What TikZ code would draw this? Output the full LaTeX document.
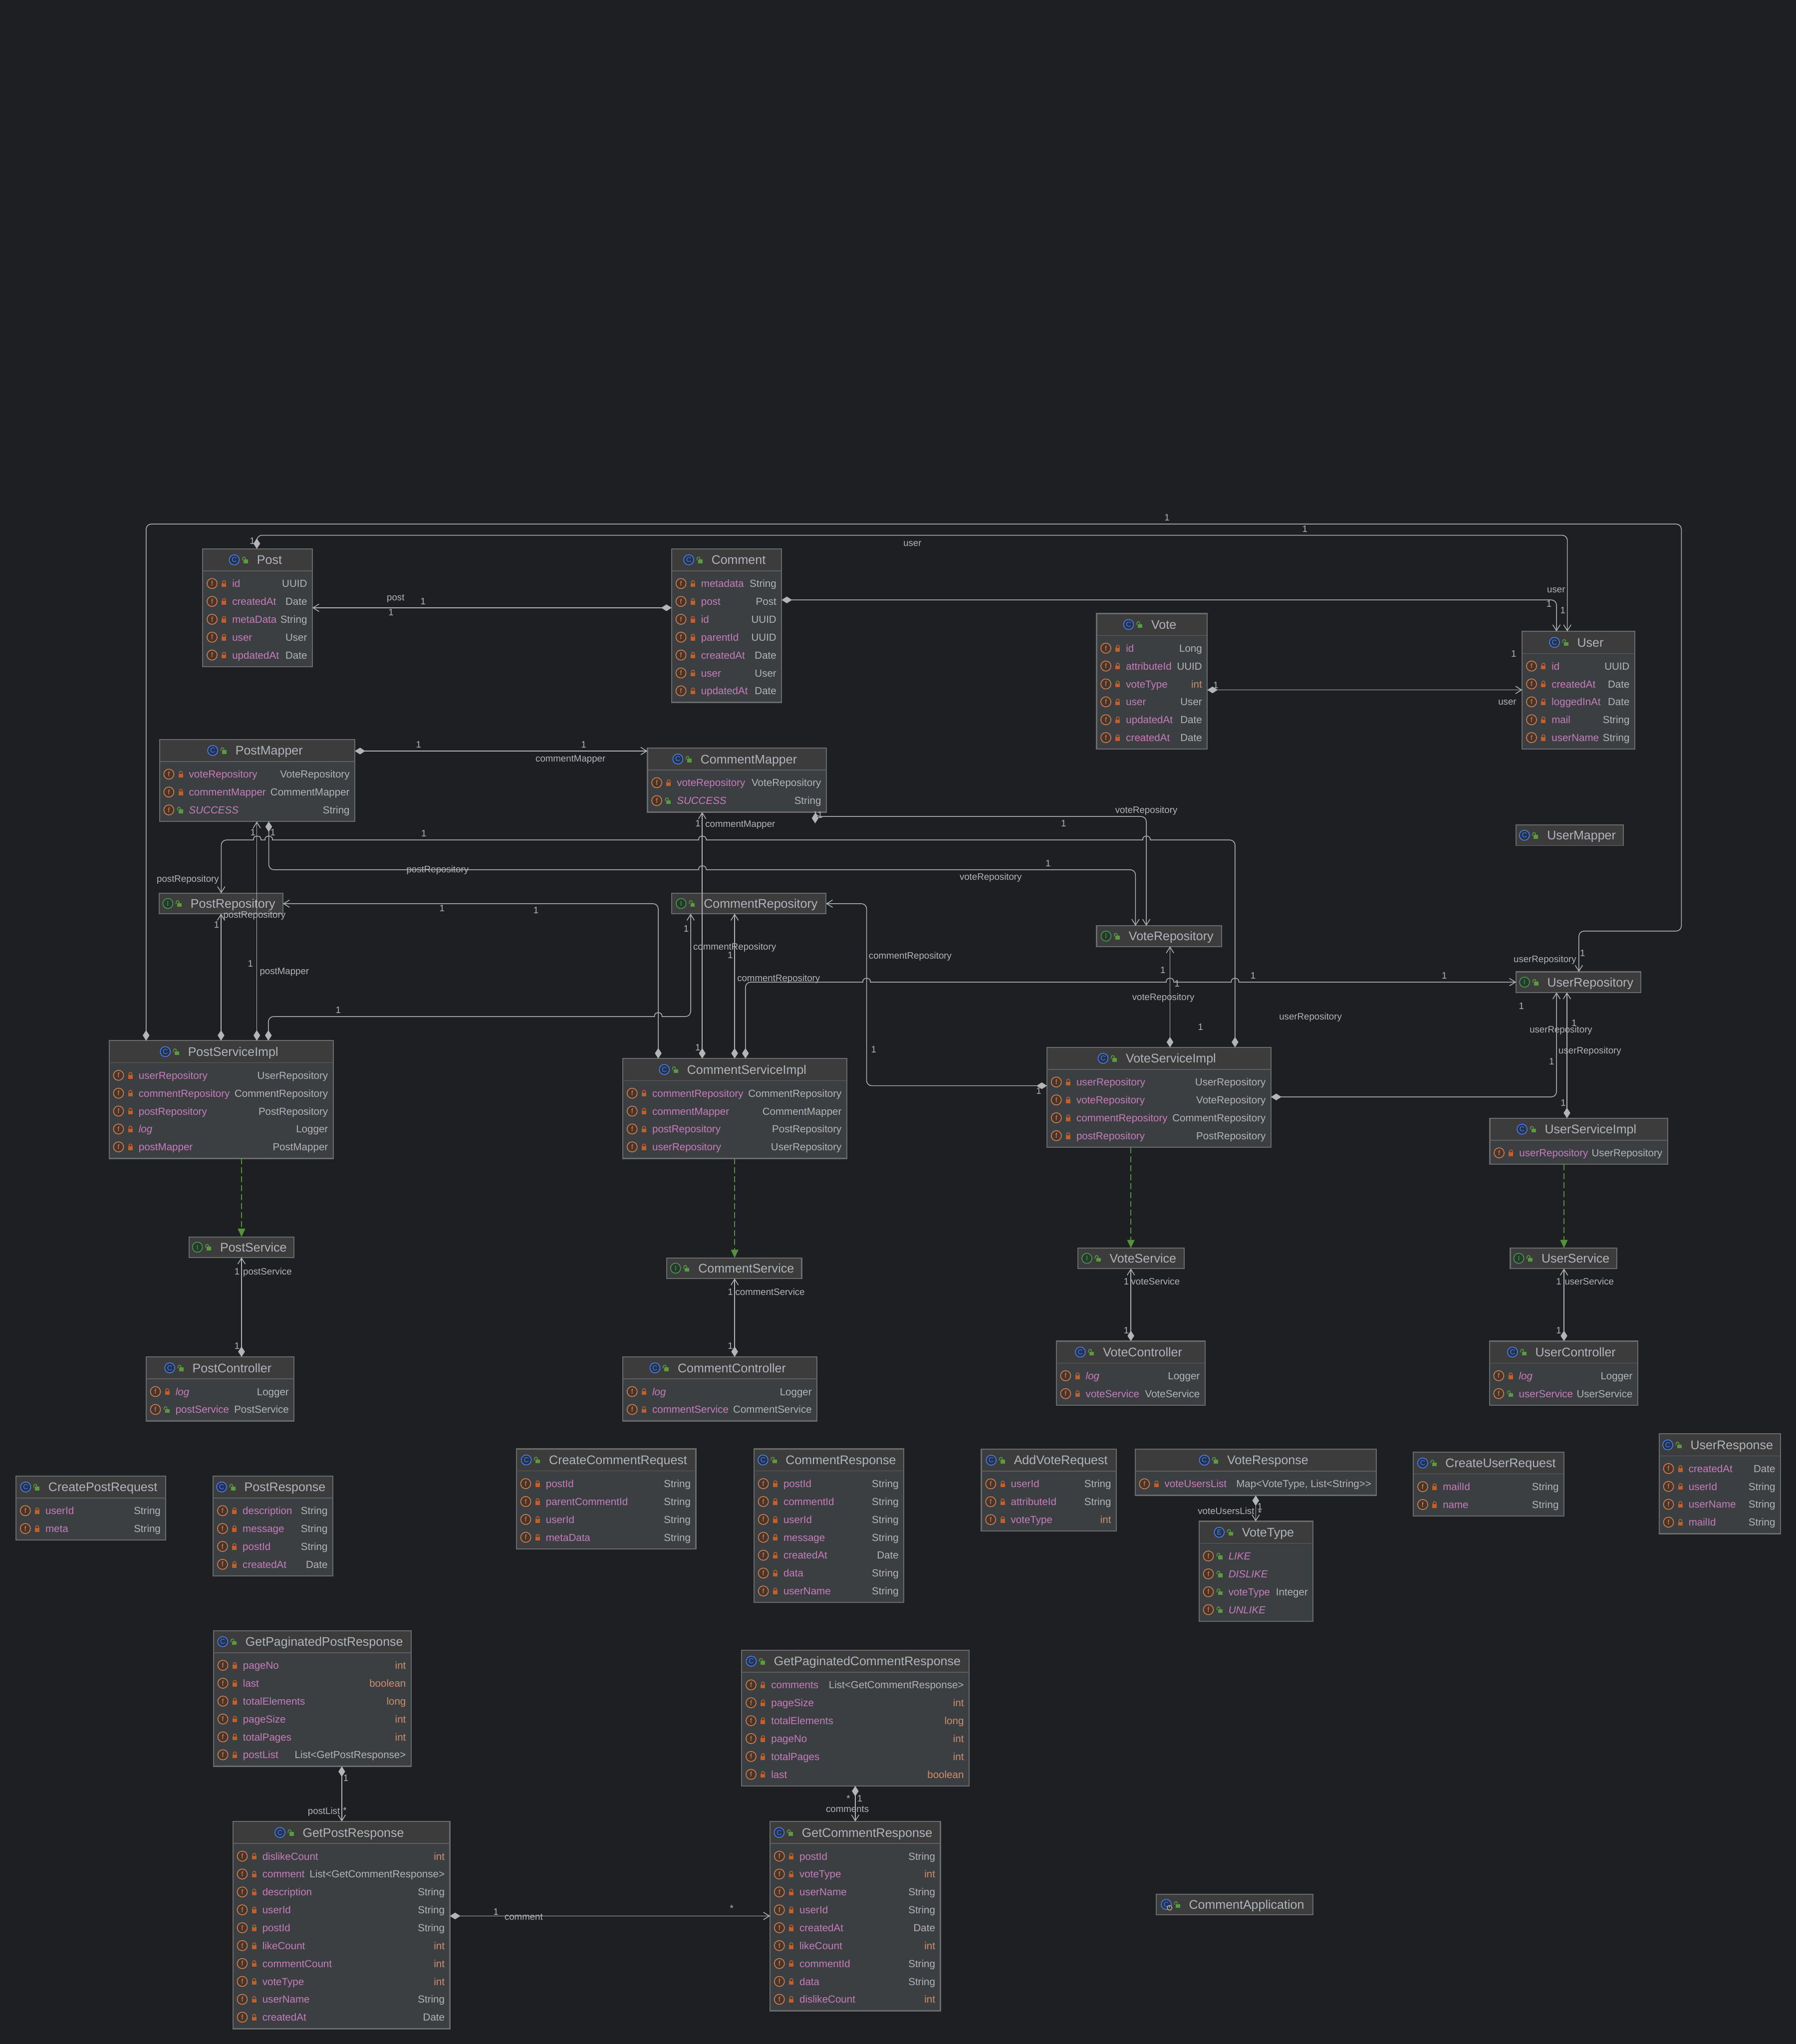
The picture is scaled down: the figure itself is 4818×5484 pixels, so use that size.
\documentclass[tikz,border=0pt]{standalone}
\usepackage{fontspec}
\setmainfont{Liberation Sans}
\usetikzlibrary{arrows.meta}
\definecolor{bg}{HTML}{1E1F22}
\definecolor{hdrc}{HTML}{3C3C3C}
\definecolor{bodyc}{HTML}{3B3F42}
\definecolor{brd}{HTML}{6B6B6B}
\definecolor{sepc}{HTML}{5F5F5F}
\definecolor{ttl}{HTML}{B2B4BA}
\definecolor{fname}{HTML}{C77DBB}
\definecolor{ftype}{HTML}{B2B4BA}
\definecolor{primc}{HTML}{CF8E6D}
\definecolor{lnc}{HTML}{B4B4B4}
\definecolor{gen}{HTML}{55923B}
\definecolor{ringf}{HTML}{CF8658}
\definecolor{fillf}{HTML}{4A3328}
\definecolor{ringc}{HTML}{4C82EF}
\definecolor{fillc}{HTML}{25324D}
\definecolor{ringi}{HTML}{4A9A58}
\definecolor{filli}{HTML}{263A2C}
\definecolor{lockp}{HTML}{C1602A}
\definecolor{locko}{HTML}{5A9B42}
\tikzset{
  clsbox/.style={draw=brd,fill=bodyc,line width=1.5pt,rectangle,anchor=north west,inner sep=0,outer sep=0},
  ttlnode/.style={font=\fontsize{16.75pt}{20pt}\selectfont,text=ttl,inner sep=0,outer sep=0,text height=14.5pt,text depth=2.5pt},
  fnode/.style={font=\fontsize{13.75pt}{16pt}\selectfont,text=fname,inner sep=0,outer sep=0,anchor=west,text height=11.5pt,text depth=1.5pt},
  tnode/.style={font=\fontsize{13.75pt}{16pt}\selectfont,text=ftype,inner sep=0,outer sep=0,anchor=east,text height=11.5pt,text depth=1.5pt},
  elab/.style={font=\fontsize{12.5pt}{15pt}\selectfont,text=ftype,inner sep=0,outer sep=0,text height=10pt,text depth=1.5pt},
  ico/.style={circle,line width=1pt,inner sep=0,outer sep=0,minimum size=13.5pt,font=\fontsize{9.5pt}{10pt}\selectfont},
  cn/.style={draw=lnc,line width=1pt,rounded corners=7pt},
  assoc/.style={cn,arrows={Diamond[length=14pt,width=9pt]-Straight Barb[length=8pt,width=10pt]}},
  genl/.style={draw=gen,line width=.9pt,dash pattern=on 8pt off 4pt,arrows={-Triangle[length=11pt,width=10pt]}},
}
\newcount\lblc
\newcount\rowc
\newcommand\nxt{\global\advance\lblc by 1 }
\newcommand\circico[5]{\nxt\node[ico,draw=#3,fill=#4,text=#3,name=ic\the\lblc] at (#1,#2) {#5};}
\newcommand\lockP[2]{%
  \fill[lockp] (#1-6,#2-1) rectangle (#1+6,#2+9);
  \draw[lockp,line width=1pt] (#1-4,#2-1) -- (#1-4,#2-4) .. controls (#1-4,#2-9) and (#1+4,#2-9) .. (#1+4,#2-4) -- (#1+4,#2-1);}
\newcommand\lockO[2]{%
  \fill[locko] (#1-6,#2-1) rectangle (#1+6,#2+9);
  \draw[locko,line width=1pt] (#1-9,#2+1) -- (#1-9,#2-3) .. controls (#1-9,#2-9) and (#1-1,#2-9) .. (#1-1,#2-3) -- (#1-1,#2-1);}
% id x0 x1 y0 n kind(ringc/ringi) letter title
\newcommand\cls[8]{%
  \def\cx{#2}\def\cX{#3}\def\cy{#4}\global\rowc=0
  \pgfmathsetmacro\cH{#5>0 ? 76+48*#5 : 55}
  \pgfmathsetmacro\hH{#5>0 ? 59 : 55}
  \pgfmathsetmacro\hc{#4+\hH/2}
  \pgfmathsetmacro\tx{(#2+#3)/2+32}
  \node[clsbox,minimum width=(#3-#2)*0.5pt,minimum height=\cH*0.5pt] (#1) at (#2,#4) {};
  \fill[hdrc] (#2+1.5,#4+1.5) rectangle (#3-1.5,#4+\hH-1);
  \ifnum#5>0 \draw[sepc,line width=1pt] (#2,#4+\hH) -- (#3,#4+\hH);\fi
  \node[ttlnode] (#1t) at (\tx,\hc) {#8};
  \begin{scope}[shift={(#1t.west)}]
    \ifx c#6\circico{-61}{0}{ringc}{fillc}{#7}\fi
    \ifx i#6\circico{-61}{0}{ringi}{filli}{#7}\fi
    \lockO{-30}{0}
  \end{scope}
}
\newcommand\rowbase[2]{%
  \global\advance\rowc by 1
  \pgfmathsetmacro\ry{\cy+93+48*(\the\rowc-1)}
  \circico{\cx+25}{\ry}{ringf}{fillf}{f}
  \nxt\node[fnode,name=fn\the\lblc] at (\cx+79,\ry) {#1};
  \ifx\relax#2\relax\else\nxt\node[tnode,name=ty\the\lblc] at (\cX-14,\ry) {#2};\fi
}
\newcommand\fp[2]{\rowbase{#1}{#2}\lockP{\cx+57}{\ry}}
\newcommand\fo[2]{\rowbase{#1}{#2}\lockO{\cx+57}{\ry}}
\newcommand\prim[1]{\textcolor{primc}{#1}}
\newcommand\el[3]{\nxt\node[elab,name=el\the\lblc] at (#1,#2) {#3};}
\newcommand\hjr[2]{[sharp corners] -- (#1-10,#2) -- (#1-10,#2-3) .. controls (#1-9,#2-13) and (#1+9,#2-13) .. (#1+10,#2-3) -- (#1+10,#2) [rounded corners=7pt]}
\newcommand\hjl[2]{[sharp corners] -- (#1+10,#2) -- (#1+10,#2-3) .. controls (#1+9,#2-13) and (#1-9,#2-13) .. (#1-10,#2-3) -- (#1-10,#2) [rounded corners=7pt]}
\begin{document}
\begin{tikzpicture}[x=0.5pt,y=-0.5pt]
\useasboundingbox (0,0) rectangle (4818,5484);
\fill[bg] (0,0) rectangle (4818,5484);

\cls{post}{544}{838}{1472.5}{5}{c}{C}{Post}
\fp{id}{UUID}\fp{createdAt}{Date}\fp{metaData}{String}\fp{user}{User}\fp{updatedAt}{Date}
\cls{comment}{1802}{2097}{1472.5}{7}{c}{C}{Comment}
\fp{metadata}{String}\fp{post}{Post}\fp{id}{UUID}\fp{parentId}{UUID}\fp{createdAt}{Date}\fp{user}{User}\fp{updatedAt}{Date}
\cls{vote}{2942}{3239}{1646}{6}{c}{C}{Vote}
\fp{id}{Long}\fp{attributeId}{UUID}\fp{voteType}{\prim{int}}\fp{user}{User}\fp{updatedAt}{Date}\fp{createdAt}{Date}
\cls{user}{4084}{4386}{1694}{5}{c}{C}{User}
\fp{id}{UUID}\fp{createdAt}{Date}\fp{loggedInAt}{Date}\fp{mail}{String}\fp{userName}{String}
\cls{pmapper}{428}{952}{1984}{3}{c}{C}{PostMapper}
\fp{voteRepository}{VoteRepository}\fp{commentMapper}{CommentMapper}\fo{\itshape SUCCESS}{String}
\cls{cmapper}{1737}{2217}{2007}{2}{c}{C}{CommentMapper}
\fp{voteRepository}{VoteRepository}\fo{\itshape SUCCESS}{String}
\cls{umapper}{4067}{4355}{2213.5}{0}{c}{C}{UserMapper}
\cls{prepo}{427}{759}{2396.5}{0}{i}{I}{PostRepository}
\cls{crepo}{1802}{2216}{2396.5}{0}{i}{I}{CommentRepository}
\cls{vrepo}{2942}{3278}{2484}{0}{i}{I}{VoteRepository}
\cls{urepo}{4067.5}{4402}{2607.5}{0}{i}{I}{UserRepository}
\cls{pimpl}{293}{894}{2792}{5}{c}{C}{PostServiceImpl}
\fp{userRepository}{UserRepository}\fp{commentRepository}{CommentRepository}\fp{postRepository}{PostRepository}\fp{\itshape log}{Logger}\fp{postMapper}{PostMapper}
\cls{cimpl}{1671}{2272}{2840}{4}{c}{C}{CommentServiceImpl}
\fp{commentRepository}{CommentRepository}\fp{commentMapper}{CommentMapper}\fp{postRepository}{PostRepository}\fp{userRepository}{UserRepository}
\cls{vimpl}{2809}{3410}{2810}{4}{c}{C}{VoteServiceImpl}
\fp{userRepository}{UserRepository}\fp{voteRepository}{VoteRepository}\fp{commentRepository}{CommentRepository}\fp{postRepository}{PostRepository}
\cls{uimpl}{3997}{4474}{3000}{1}{c}{C}{UserServiceImpl}
\fp{userRepository}{UserRepository}
\cls{pserv}{507}{789}{3318.5}{0}{i}{I}{PostService}
\cls{cserv}{1789}{2151}{3375}{0}{i}{I}{CommentService}
\cls{vserv}{2892}{3177}{3348.5}{0}{i}{I}{VoteService}
\cls{userv}{4052}{4338}{3348.5}{0}{i}{I}{UserService}
\cls{pctrl}{392}{789}{3640.5}{2}{c}{C}{PostController}
\fp{\itshape log}{Logger}\fo{postService}{PostService}
\cls{cctrl}{1671}{2192}{3640.5}{2}{c}{C}{CommentController}
\fp{\itshape log}{Logger}\fp{commentService}{CommentService}
\cls{vctrl}{2834}{3233}{3598}{2}{c}{C}{VoteController}
\fp{\itshape log}{Logger}\fp{voteService}{VoteService}
\cls{uctrl}{3996}{4394}{3598}{2}{c}{C}{UserController}
\fp{\itshape log}{Logger}\fo{userService}{UserService}
\cls{cpreq}{43}{445}{3960}{2}{c}{C}{CreatePostRequest}
\fp{userId}{String}\fp{meta}{String}
\cls{presp}{572}{893}{3960}{4}{c}{C}{PostResponse}
\fp{description}{String}\fp{message}{String}\fp{postId}{String}\fp{createdAt}{Date}
\cls{ccreq}{1385.5}{1867}{3887.5}{4}{c}{C}{CreateCommentRequest}
\fp{postId}{String}\fp{parentCommentId}{String}\fp{userId}{String}\fp{metaData}{String}
\cls{cresp}{2023}{2425}{3887.5}{7}{c}{C}{CommentResponse}
\fp{postId}{String}\fp{commentId}{String}\fp{userId}{String}\fp{message}{String}\fp{createdAt}{Date}\fp{data}{String}\fp{userName}{String}
\cls{avreq}{2633}{2995}{3888}{3}{c}{C}{AddVoteRequest}
\fp{userId}{String}\fp{attributeId}{String}\fp{voteType}{\prim{int}}
\cls{vresp}{3045.5}{3693}{3888}{1}{c}{C}{VoteResponse}
\fp{voteUsersList}{Map<VoteType, List<String>{}>}
\cls{vtype}{3217}{3523}{4081.6}{4}{c}{E}{VoteType}
\fo{\itshape LIKE}{}\fo{\itshape DISLIKE}{}\fo{voteType}{Integer}\fo{\itshape UNLIKE}{}
\cls{cureq}{3792}{4196}{3895.6}{2}{c}{C}{CreateUserRequest}
\fp{mailId}{String}\fp{name}{String}
\cls{uresp}{4451.5}{4777}{3847}{4}{c}{C}{UserResponse}
\fp{createdAt}{Date}\fp{userId}{String}\fp{userName}{String}\fp{mailId}{String}
\cls{gppr}{573}{1103}{4375}{6}{c}{C}{GetPaginatedPostResponse}
\fp{pageNo}{\prim{int}}\fp{last}{\prim{boolean}}\fp{totalElements}{\prim{long}}\fp{pageSize}{\prim{int}}\fp{totalPages}{\prim{int}}\fp{postList}{List<GetPostResponse>}
\cls{gpcr}{1990}{2600}{4427.5}{6}{c}{C}{GetPaginatedCommentResponse}
\fp{comments}{List<GetCommentResponse>}\fp{pageSize}{\prim{int}}\fp{totalElements}{\prim{long}}\fp{pageNo}{\prim{int}}\fp{totalPages}{\prim{int}}\fp{last}{\prim{boolean}}
\cls{gpr}{625}{1207}{4887}{10}{c}{C}{GetPostResponse}
\fp{dislikeCount}{\prim{int}}\fp{comment}{List<GetCommentResponse>}\fp{description}{String}\fp{userId}{String}\fp{postId}{String}\fp{likeCount}{\prim{int}}\fp{commentCount}{\prim{int}}\fp{voteType}{\prim{int}}\fp{userName}{String}\fp{createdAt}{Date}
\cls{gcr}{2066}{2523}{4887}{9}{c}{C}{GetCommentResponse}
\fp{postId}{String}\fp{voteType}{\prim{int}}\fp{userName}{String}\fp{userId}{String}\fp{createdAt}{Date}\fp{likeCount}{\prim{int}}\fp{commentId}{String}\fp{data}{String}\fp{dislikeCount}{\prim{int}}
\cls{capp}{3102}{3523}{5082}{0}{c}{C}{CommentApplication}
\begin{scope}[shift={(cappt.west)}]
  \draw[lnc,fill=hdrc,line width=.9pt] (-52,9) circle[radius=6.5];
  \draw[lnc,line width=.9pt] (-52,3) -- (-52,9);
\end{scope}

% connectors
\draw[assoc] (pimpl.north -| 392,0) -- (392,1406) -- (4511,1406) -- (4511,2498) -- (4236,2498) -- (urepo.north -| 4236,0);
\draw[assoc] (post.north -| 689,0) -- (689,1436) -- (4205,1436) -- (user.north -| 4205,0);
\draw[assoc] (comment.west |- 0,1630.6) -- (post.east |- 0,1630.6);
\draw[assoc] (comment.east |- 0,1609.6) -- (4176,1609.6) -- (user.north -| 4176,0);
\draw[assoc] (vote.east |- 0,1851) -- (user.west |- 0,1851);
\draw[assoc] (pmapper.east |- 0,2015) -- (cmapper.west |- 0,2015);
\draw[assoc] (pmapper.south -| 721,0) -- (721,2333.5) -- (800,2333.5) \hjr{1884.5}{2333.5} -- (3046.5,2333.5) -- (vrepo.north -| 3046.5,0);
\draw[assoc] (vimpl.north -| 3313.5,0) -- (3313.5,2253.6) -- (3200,2253.6) \hjl{3076}{2253.6} \hjl{1884.5}{2253.6} \hjl{721}{2253.6} \hjl{690}{2253.6} -- (593.6,2253.6) -- (prepo.north -| 593.6,0);
\draw[cn,-{Straight Barb[length=8pt,width=10pt]}] (cmapper.south -| 2187,0) -- (2187,2190.6) -- (3075.5,2190.6) -- (vrepo.north -| 3075.5,0);
\fill[lnc] (2187,2181) -- (2196,2195) -- (2187,2209) -- (2178,2195) -- cycle;
\draw[assoc] (pimpl.north -| 593,0) -- (prepo.south -| 593,0);
\draw[assoc] (pimpl.north -| 689,0) -- (pmapper.south -| 689,0);
\draw[assoc] (pimpl.north -| 720,0) -- (720,2727.4) -- (800,2727.4) \hjr{1766}{2727.4} -- (1853,2727.4) -- (crepo.south -| 1853,0);
\draw[assoc] (cimpl.north -| 1766,0) -- (1766,2424.5) -- (prepo.east |- 0,2424.5);
\draw[assoc] (cimpl.north -| 1884,0) -- (cmapper.south -| 1884,0);
\draw[assoc] (cimpl.north -| 1971,0) -- (crepo.south -| 1971,0);
\draw[assoc] (cimpl.north -| 2000,0) -- (2000,2635) -- (2100,2635) \hjr{2325}{2635} \hjr{3139}{2635} \hjr{3313.5}{2635} -- (urepo.west |- 0,2635);
\draw[assoc] (vimpl.west |- 0,2913) -- (2325,2913) -- (2325,2424.5) -- (crepo.east |- 0,2424.5);
\draw[assoc] (vimpl.north -| 3139,0) -- (vrepo.south -| 3139,0);
\draw[assoc] (vimpl.east |- 0,2943) -- (4176,2943) -- (urepo.south -| 4176,0);
\draw[assoc] (uimpl.north -| 4204,0) -- (urepo.south -| 4204,0);
\draw[genl] (pimpl.south -| 648,0) -- (pserv.north -| 648,0);
\draw[genl] (cimpl.south -| 1971,0) -- (cserv.north -| 1971,0);
\draw[genl] (vimpl.south -| 3034,0) -- (vserv.north -| 3034,0);
\draw[genl] (uimpl.south -| 4196,0) -- (userv.north -| 4196,0);
\draw[assoc] (pctrl.north -| 648,0) -- (pserv.south -| 648,0);
\draw[assoc] (cctrl.north -| 1971,0) -- (cserv.south -| 1971,0);
\draw[assoc] (vctrl.north -| 3034,0) -- (vserv.south -| 3034,0);
\draw[assoc] (uctrl.north -| 4196,0) -- (userv.south -| 4196,0);
\draw[assoc] (vresp.south -| 3369,0) -- (vtype.north -| 3369,0);
\draw[assoc] (gppr.south -| 917,0) -- (gpr.north -| 917,0);
\draw[assoc] (gpcr.south -| 2294.6,0) -- (gcr.north -| 2294.6,0);
\draw[assoc] (gpr.east |- 0,5140.4) -- (gcr.west |- 0,5140.4);

% labels
\el{3131}{1388}{1}\el{4246}{2558}{1}\el{4145}{2574}{userRepository}
\el{677}{1451}{1}\el{3501}{1419.5}{1}\el{2448}{1456.5}{user}\el{4175}{1582}{user}\el{4193}{1638}{1}
\el{1061.5}{1603}{post}\el{1135}{1613.4}{1}\el{1049}{1643}{1}
\el{4156}{1620}{1}
\el{3262}{1839}{1}\el{4044}{1882.5}{user}\el{4061}{1754}{1}
\el{1123}{1998}{1}\el{1566}{1998}{1}\el{1530.6}{2035.6}{commentMapper}
\el{1174}{2333}{postRepository}\el{732}{2233}{1}\el{2812}{2316}{1}\el{2658}{2353}{voteRepository}
\el{1137}{2236}{1}\el{504}{2358}{postRepository}\el{3221}{2755.5}{1}
\el{2200}{2187}{1}\el{3075.5}{2173}{voteRepository}\el{2853.6}{2209}{1}
\el{581}{2480.6}{1}\el{682.6}{2454}{postRepository}
\el{672}{2586}{1}\el{763}{2605.6}{postMapper}\el{678.5}{2233}{1}
\el{907.5}{2710}{1}\el{1841}{2492}{1}\el{1971}{2540.6}{commentRepository}
\el{1186}{2437}{1}\el{1438}{2442}{1}
\el{1872.4}{2209}{1}\el{1986}{2210}{commentMapper}\el{1872}{2810}{1}
\el{1959}{2563}{1}
\el{2089}{2625}{commentRepository}\el{3362}{2618}{1}\el{3875}{2618}{1}\el{3158}{2639}{1}\el{3516}{2727}{userRepository}
\el{2344}{2816}{1}\el{2787}{2927}{1}\el{2442}{2563.5}{commentRepository}
\el{3120}{2603}{1}\el{3121}{2675}{voteRepository}
\el{4163}{2848}{1}\el{4188}{2762.5}{userRepository}\el{4082}{2699}{1}
\el{4223}{2745}{1}\el{4265.6}{2818.6}{userRepository}\el{4194}{2959}{1}
\el{636}{3412}{1}\el{717.5}{3412}{postService}\el{636}{3611}{1}
\el{1959.5}{3466.6}{1}\el{2066}{3466.6}{commentService}\el{1959.5}{3611}{1}
\el{3022}{3439}{1}\el{3100}{3439}{voteService}\el{3022}{3569.6}{1}
\el{4182}{3438}{1}\el{4264}{3438}{userService}\el{4182}{3570}{1}
\el{3289.5}{4054}{voteUsersList}\el{3380}{4042}{1}\el{3380}{4060}{*}
\el{928}{4770}{1}\el{869}{4859.5}{postList}\el{925}{4858}{*}
\el{2276}{4826}{*}\el{2307}{4826}{1}\el{2273.6}{4853}{comments}
\el{1330.6}{5129}{1}\el{1405}{5142.6}{comment}\el{1963}{5120}{*}
\end{tikzpicture}
\end{document}
